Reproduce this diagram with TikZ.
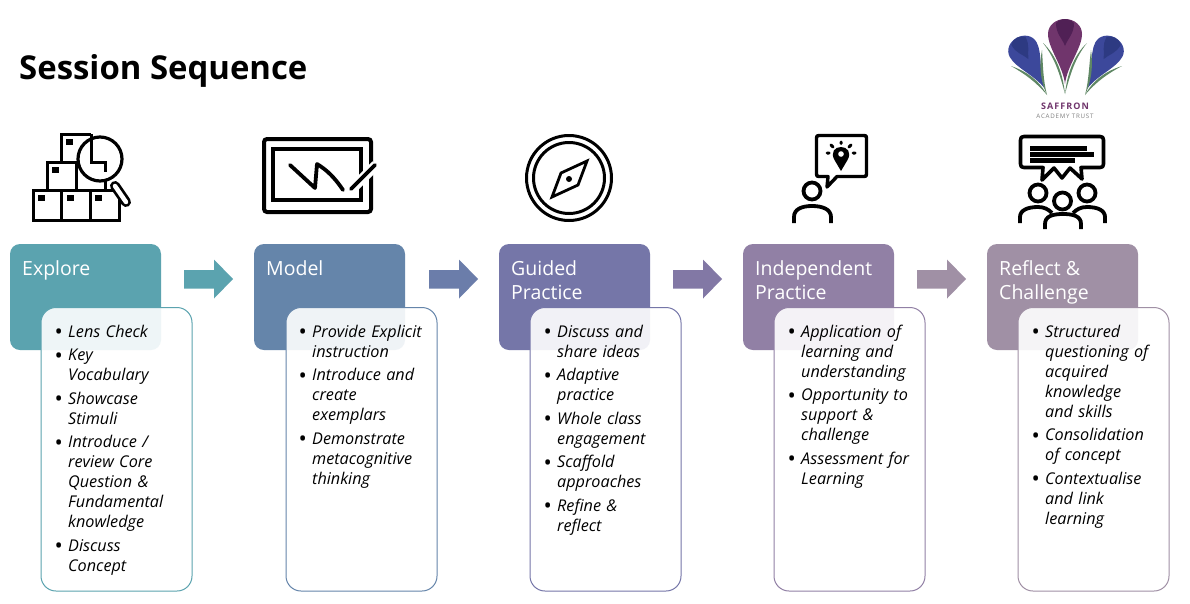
\documentclass[tikz,border=0pt]{standalone}
\usepackage{fontspec}
\setmainfont{Open Sans}
\newfontfamily\logofont[LetterSpace=12]{Open Sans}
\usetikzlibrary{calc}
\definecolor{c1}{RGB}{91,163,175}
\definecolor{c2}{RGB}{101,133,170}
\definecolor{c3}{RGB}{117,118,168}
\definecolor{c4}{RGB}{145,128,165}
\definecolor{c5}{RGB}{160,144,165}
\definecolor{a2}{RGB}{107,125,170}
\definecolor{a3}{RGB}{130,120,165}
\definecolor{logopurple}{RGB}{112,53,108}
\definecolor{logodark}{RGB}{80,32,85}
\definecolor{logoblue}{RGB}{60,72,155}
\definecolor{logoblued}{RGB}{45,58,130}
\definecolor{logogreen}{RGB}{95,135,100}
\newcommand\itm[1]{\hangindent=22pt\hangafter=1\noindent\makebox[22pt][l]{\hspace{8.5pt}\raisebox{-2.4pt}[0pt][0pt]{\fontsize{22}{20}\selectfont\textup{•}}}#1\par}
\newcommand\bodyset{\fontsize{16.2}{20}\selectfont\itshape\parskip=3.6pt\rightskip=0pt plus 1fil\relax}
\tikzset{
  x=1pt,y=-1pt,
  head/.style={draw=none,fill=#1,rounded corners=10pt},
  itembox/.style={draw=none,fill=white,fill opacity=.9,rounded corners=15pt},
  headtext/.style={text=white,anchor=north west,inner sep=0pt,align=left,font=\fontsize{19.5}{24}\selectfont},
  bodytext/.style={anchor=north west,inner sep=0pt,text width=145pt,font=\bodyset},
  iconr/.style={line width=3.8pt,draw=black,line cap=round,line join=round},
}
\newcommand\blockarrow[2]{\fill[#2] ($(#1,270)$) -- ++(30,0) -- ++(0,-10.5) -- ++(19,19.5) -- ++(-19,19.5) -- ++(0,-10) -- ++(-30,0) -- cycle;}
\newcommand\petal[6]{% x y rot scale main dark
  \begin{scope}[shift={(#1,#2)},rotate=#3,scale=#4]
    \fill[#5] (0,0) .. controls (-2,-18) and (-17,-36) .. (-17,-50) .. controls (-17,-59) and (-9,-65) .. (0,-65) .. controls (9,-65) and (17,-59) .. (17,-50) .. controls (17,-36) and (2,-18) .. (0,0) -- cycle;
    \fill[#6] (0,-38) .. controls (-3,-46) and (-9,-50) .. (-9,-61) .. controls (-6,-64) and (-3,-65) .. (0,-65) .. controls (3,-65) and (6,-64) .. (9,-61) .. controls (9,-50) and (3,-46) .. (0,-38) -- cycle;
  \end{scope}}
\begin{document}
\begin{tikzpicture}
\useasboundingbox (0,0) rectangle (1190,603);
\fill[white] (0,0) rectangle (1190,603);
\node[anchor=base west,inner sep=0pt,font=\fontsize{32.9}{36}\selectfont\bfseries] (title) at (19,79) {Session Sequence};

% ---- logo
\petal{1065}{84}{0}{1}{logopurple}{logodark}
\petal{1045}{89}{29}{.9}{logoblue}{logoblued}
\petal{1087}{89}{-29}{.9}{logoblue}{logoblued}
\fill[logogreen] (1047,95) .. controls (1036,82) and (1025,74) .. (1011,66) .. controls (1026,71) and (1039,80) .. (1047,95);
\fill[logogreen] (1047,95) .. controls (1040,80) and (1039,65) .. (1042,50) .. controls (1043,65) and (1043,80) .. (1047,95);
\fill[logogreen] (1065,94) .. controls (1060,75) and (1055,58) .. (1043,43) .. controls (1057,56) and (1063,75) .. (1065,94);
\fill[logogreen] (1065,94) .. controls (1070,75) and (1075,58) .. (1087,43) .. controls (1073,56) and (1067,75) .. (1065,94);
\fill[logogreen] (1085,95) .. controls (1096,82) and (1107,74) .. (1122,66) .. controls (1106,71) and (1093,80) .. (1085,95);
\fill[logogreen] (1085,95) .. controls (1092,80) and (1093,65) .. (1091,50) .. controls (1089,65) and (1089,80) .. (1085,95);
\node[inner sep=0pt,text=logopurple,font=\fontsize{9}{10}\logofont\bfseries] (logoa) at (1065,106) {SAFFRON};
\node[inner sep=0pt,text=gray,font=\fontsize{6.2}{8}\logofont] (logob) at (1065,116) {ACADEMY TRUST};

% ---- explore icon
\begin{scope}[line width=3pt]
\draw (33,190) rectangle (61.5,220);
\draw (61.5,190) rectangle (90,220);
\draw (90,190) -- (119,190) -- (119,220) -- (90,220);
\draw (47,190) -- (47,162) -- (76,162) -- (76,190);
\draw (76,162) -- (105,162) -- (105,190);
\draw (61.5,162) -- (61.5,134) -- (91,134);
\fill[white] (100,159) circle (21);
\draw (91,134) -- (91,162) -- (105,162) -- (105,172);
\draw[line width=3.2pt] (100,159) circle (22);
\draw[line width=10pt,line cap=round] (115,186) -- (126,202);
\draw[line width=4.5pt,line cap=round,white] (115,186) -- (126,202);
\end{scope}
\foreach \p in {38,67,95}{\fill (\p,195) rectangle ++(7,6);}
\fill (52,167) rectangle ++(7,6);
\fill (66,139) rectangle ++(7,6);

% ---- model icon
\draw[line width=4pt,rounded corners=3pt] (264,139) rectangle (371,212);
\draw[line width=3.6pt] (273,149) rectangle (361,200);
\draw[white,line width=10pt] (351,190) -- (376,165);
\draw[iconr] (290,165) -- (315,188) -- (317,164) .. controls (327,170) and (335,178) .. (343,190);
\draw[iconr] (351,189) -- (375,165);

% ---- compass icon
\draw[line width=3pt] (569,178) circle (42.5);
\draw[line width=3pt] (569,178) circle (35.5);
\draw[line width=2.8pt,line join=miter] (587,161) -- (561,173) -- (552,197) -- (578,185) -- cycle;
\fill (569,179) circle (3);

% ---- independent icon
\draw[line width=3.4pt,line join=round] (819,135.5) -- (864,135.5) .. controls (866,135.5) and (866.5,136) .. (866.5,138) -- (866.5,174) .. controls (866.5,176) and (866,176.5) .. (864,176.5) -- (837,176.5) -- (827,187) -- (828,176.5) -- (819,176.5) .. controls (817,176.5) and (816.5,176) .. (816.5,174) -- (816.5,138) .. controls (816.5,136) and (817,135.5) .. (819,135.5) -- cycle;
\fill (841,171) -- (834.5,160) .. controls (830,152) and (835,147) .. (841,147) .. controls (847,147) and (852,152) .. (847.5,160) -- cycle;
\fill[white] (841,154) circle (2.8);
\draw[line width=3pt,line cap=round] (841,143.5) -- (841,142) (833,147) -- (831,145) (849,147) -- (851,145) (829,153) -- (827,153) (853,153) -- (855,153);
\draw[line width=3.8pt] (812,191) circle (8.5);
\draw[line width=3.8pt] (794,223) -- (794,217) .. controls (794,209) and (802,206) .. (812,206) .. controls (822,206) and (831,209) .. (831,217) -- (831,223);

% ---- reflect icon
\draw[line width=3.6pt,line join=round] (1024,136.5) -- (1100,136.5) .. controls (1102.5,136.5) and (1103.5,137.5) .. (1103.5,140) -- (1103.5,164) .. controls (1103.5,166.5) and (1102.5,167.5) .. (1100,167.5) -- (1081,167.5) -- (1082,179) -- (1070,168) -- (1062,178) -- (1054,168) -- (1042,180) -- (1043,167.5) -- (1024,167.5) .. controls (1021.5,167.5) and (1020.5,166.5) .. (1020.5,164) -- (1020.5,140) .. controls (1020.5,137.5) and (1021.5,136.5) .. (1024,136.5) -- cycle;
\fill (1030,146) rectangle (1087,150.5);
\fill (1030,152) rectangle (1094,156.5);
\fill (1030,158) rectangle (1075,162.5);
\draw[line width=3.8pt] (1038,193) circle (8.5);
\draw[line width=3.8pt] (1087,193) circle (8.5);
\draw[line width=3.8pt] (1062.5,201) circle (8.5);
\draw[line width=3.8pt] (1045,229) -- (1045,224) .. controls (1045,216) and (1053,214) .. (1063,214) .. controls (1073,214) and (1081,216) .. (1081,224) -- (1081,229);
\draw[line width=3.8pt] (1020,223) -- (1020,217) .. controls (1020,210) and (1028,207) .. (1038,207) .. controls (1044,207) and (1048,209) .. (1052,213);
\draw[line width=3.8pt] (1105,223) -- (1105,217) .. controls (1105,210) and (1097,207) .. (1087,207) .. controls (1081,207) and (1077,209) .. (1073,213);

% ---- heading boxes
\foreach \x/\c in {10/c1,254/c2,499/c3,743/c4,987/c5}{
  \path[head=\c] (\x,244) rectangle ++(151,106);
}
\node[headtext] (t1) at (22,260) {Explore};
\node[headtext] (t2) at (266,260) {Model};
\node[headtext] (t3) at (511,260) {Guided\\Practice};
\node[headtext] (t4) at (755,260) {Independent\\Practice};
\node[headtext] (t5) at (999,260) {Reflect \&\\Challenge};

% ---- arrows
\blockarrow{184}{c1}
\blockarrow{429}{a2}
\blockarrow{673}{a3}
\blockarrow{917}{c5}

% ---- item boxes
\foreach \x/\c in {41/c1,286/c2,530/c3,774/c4,1018/c5}{
  \path[itembox] (\x,307.5) rectangle ++(151,283.5);
  \draw[\c,line width=1pt,rounded corners=15pt] (\x,307.5) rectangle ++(151,283.5);
}
\node[bodytext] (b1) at (46,324.5) {%
\itm{Lens Check}
\itm{Key\newline Vocabulary}
\itm{Showcase\newline Stimuli}
\itm{Introduce /\newline review Core\newline Question \&\newline Fundamental\newline knowledge}
\itm{Discuss\newline Concept}};
\node[bodytext] (b2) at (290,324.5) {%
\itm{Provide Explicit\newline instruction}
\itm{Introduce and\newline create\newline exemplars}
\itm{Demonstrate\newline metacognitive\newline thinking}};
\node[bodytext] (b3) at (535,324.5) {%
\itm{Discuss and\newline share ideas}
\itm{Adaptive\newline practice}
\itm{Whole class\newline engagement}
\itm{Scaffold\newline approaches}
\itm{Refine \&\newline reflect}};
\node[bodytext] (b4) at (779,324.5) {%
\itm{Application of\newline learning and\newline understanding}
\itm{Opportunity to\newline support \&\newline challenge}
\itm{Assessment for\newline Learning}};
\node[bodytext] (b5) at (1023,324.5) {%
\itm{Structured\newline questioning of\newline acquired\newline knowledge\newline and skills}
\itm{Consolidation\newline of concept}
\itm{Contextualise\newline and link\newline learning}};
\end{tikzpicture}
\end{document}
